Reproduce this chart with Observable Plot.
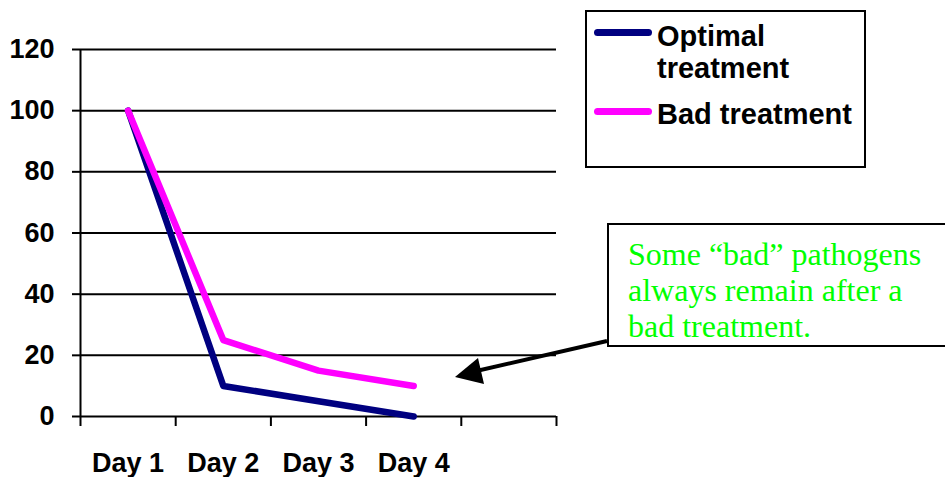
<!DOCTYPE html>
<html>
<head>
<meta charset="utf-8">
<script src="https://cdn.jsdelivr.net/npm/d3@7"></script>
<script src="https://cdn.jsdelivr.net/npm/@observablehq/plot@0.6"></script>
<style>
  html, body { margin: 0; padding: 0; background: #fff; }
  #wrap { position: relative; width: 945px; height: 477px; }
  #legend { position: absolute; left: 585px; top: 10px; width: 277px; height: 154px; border: 2px solid #000; background: #fff;
    font-family: "Liberation Sans", Arial, sans-serif; font-weight: bold; font-size: 29px; }
  .lg-line { position: absolute; left: 7px; width: 58px; height: 7px; border-radius: 4px; }
  .lg-text { position: absolute; left: 70px; line-height: 32px; white-space: nowrap; }
  #note { position: absolute; left: 607px; top: 223px; width: 340px; height: 120px; border: 2px solid #000; background: #fff;
    font-family: "Liberation Serif", "Times New Roman", serif; font-size: 32px; line-height: 36px; color: #00ff00; }
  #note div { position: absolute; left: 19px; top: 11px; white-space: nowrap; }
  #arrow { position: absolute; left: 0; top: 0; pointer-events: none; }
</style>
</head>
<body>
<div id="wrap"></div>
<script>
const days = ["Day 1", "Day 2", "Day 3", "Day 4"];
const optimal = [100, 10, 5, 0];
const bad = [100, 25, 15, 10];
const yTicks = [0, 20, 40, 60, 80, 100, 120];
const xBandEdges = [0.5, 1.5, 2.5, 3.5, 4.5, 5.5];
const seriesNames = ["Optimal treatment", "Bad treatment"];
const seriesColors = ["#000080", "#ff00ff"];
const noteLines = ["Some \u201cbad\u201d pathogens", "always remain after a", "bad treatment."];

const optData = days.map((d, i) => ({x: i + 1, label: d, value: optimal[i]}));
const badData = days.map((d, i) => ({x: i + 1, label: d, value: bad[i]}));

const font = "Liberation Sans, Arial, sans-serif";

const chart = Plot.plot({
  width: 945,
  height: 477,
  marginLeft: 80,
  marginRight: 389,
  marginTop: 49,
  marginBottom: 61,
  style: {fontFamily: font, fontSize: "27px", fontWeight: "bold", color: "#000", background: "#fff", overflow: "visible"},
  x: {type: "linear", domain: [0.5, 5.5]},
  y: {domain: [0, 120]},
  marks: [
    Plot.gridY(yTicks, {stroke: "#000", strokeOpacity: 1, strokeWidth: 2}),
    Plot.axisY({ticks: yTicks, tickSize: 8, tickPadding: 18, strokeWidth: 2, label: null}),
    Plot.axisX({ticks: xBandEdges, tickSize: 10, tickFormat: () => "", strokeWidth: 2, label: null}),
    Plot.axisX({ticks: days.map((d, i) => i + 1), tickSize: 0, tickPadding: 36, tickFormat: d => days[d - 1], label: null}),
    Plot.ruleX([0.5], {stroke: "#000", strokeWidth: 2}),
    Plot.line(optData, {x: "x", y: "value", stroke: seriesColors[0], strokeWidth: 6.5, strokeLinecap: "round", strokeLinejoin: "round"}),
    Plot.line(badData, {x: "x", y: "value", stroke: seriesColors[1], strokeWidth: 6.5, strokeLinecap: "round", strokeLinejoin: "round"})
  ]
});

const wrap = document.getElementById("wrap");
wrap.appendChild(chart);

// Legend
const legend = document.createElement("div");
legend.id = "legend";
legend.innerHTML =
  `<div class="lg-line" style="top:17px;background:${seriesColors[0]}"></div>` +
  `<div class="lg-text" style="top:8px">Optimal<br>treatment</div>` +
  `<div class="lg-line" style="top:96px;background:${seriesColors[1]}"></div>` +
  `<div class="lg-text" style="top:86px">Bad treatment</div>`;
wrap.appendChild(legend);

// Annotation box
const note = document.createElement("div");
note.id = "note";
note.innerHTML = `<div>${noteLines.join("<br>")}</div>`;
wrap.appendChild(note);

// Arrow
const svg = d3.select(wrap).append("svg").attr("id", "arrow").attr("width", 945).attr("height", 477);
svg.append("line").attr("x1", 607).attr("y1", 341).attr("x2", 472).attr("y2", 372)
  .attr("stroke", "#000").attr("stroke-width", 4);
svg.append("polygon").attr("points", "455,377 478,358 484,384").attr("fill", "#000");
</script>
</body>
</html>
